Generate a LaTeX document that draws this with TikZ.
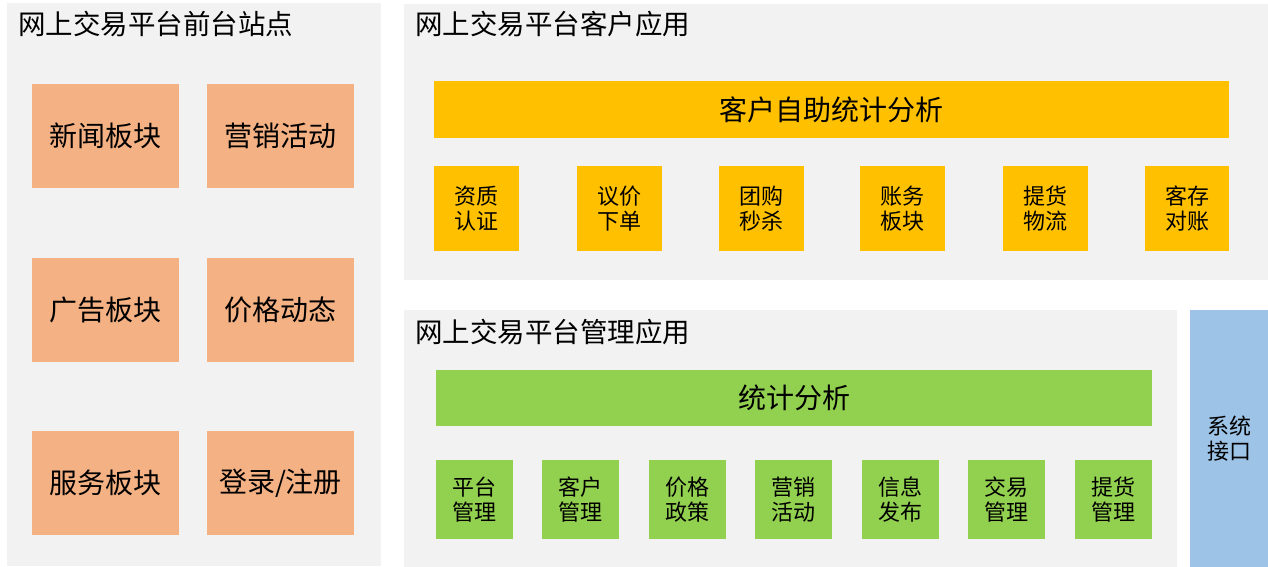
\documentclass[tikz,border=0pt]{standalone}
\usepackage{fontspec}
\setmainfont{Noto Sans CJK SC}
\definecolor{panelgray}{HTML}{F2F2F2}
\definecolor{orangebox}{HTML}{F4B183}
\definecolor{yellowbox}{HTML}{FFC000}
\definecolor{greenbox}{HTML}{92D050}
\definecolor{bluebox}{HTML}{9DC3E6}
\begin{document}
\begin{tikzpicture}[x=1pt,y=-1pt,
  blk/.style={anchor=north west,inner sep=0pt,outer sep=0pt,draw=none,align=center},
  panel/.style={blk,fill=panelgray},
  ttl/.style={anchor=west,inner sep=0pt,font=\fontsize{27.5}{31}\selectfont},
  obox/.style={blk,fill=orangebox,minimum width=147pt,minimum height=104pt,font=\fontsize{28}{32}\selectfont},
  ybar/.style={blk,fill=yellowbox,font=\fontsize{28}{32}\selectfont},
  ybox/.style={blk,fill=yellowbox,minimum width=85pt,minimum height=85pt,font=\fontsize{22}{25}\selectfont},
  gbar/.style={blk,fill=greenbox,font=\fontsize{28}{32}\selectfont},
  gbox/.style={blk,fill=greenbox,minimum width=77pt,minimum height=79pt,font=\fontsize{22}{25}\selectfont},
  bbox/.style={blk,fill=bluebox,font=\fontsize{22}{25}\selectfont}]
\useasboundingbox (0,0) rectangle (1268,567);
% panels
\node[panel,minimum width=374pt,minimum height=563pt] (pleft) at (7,3) {};
\node[panel,minimum width=864pt,minimum height=276pt] (ptop) at (404,4) {};
\node[panel,minimum width=773pt,minimum height=257pt] (pbot) at (404,310) {};
\node[bbox,minimum width=78pt,minimum height=257pt] (iface) at (1190,310) {系统\\接口};
% titles
\node[ttl] (tleft) at (18,24) {网上交易平台前台站点};
\node[ttl] (ttop) at (415,24) {网上交易平台客户应用};
\node[ttl] (tbot) at (415,332) {网上交易平台管理应用};
% left orange boxes
\node[obox] (o1) at (32,84) {新闻板块};
\node[obox] (o2) at (207,84) {营销活动};
\node[obox] (o3) at (32,258) {广告板块};
\node[obox] (o4) at (207,258) {价格动态};
\node[obox] (o5) at (32,431) {服务板块};
\node[obox] (o6) at (207,431) {登录/注册};
% top yellow
\node[ybar,minimum width=795pt,minimum height=57pt] (ystat) at (434,81) {客户自助统计分析};
\node[ybox] (y1) at (434,166) {资质\\认证};
\node[ybox] (y2) at (577,166) {议价\\下单};
\node[ybox] (y3) at (719,166) {团购\\秒杀};
\node[ybox] (y4) at (860,166) {账务\\板块};
\node[ybox] (y5) at (1003,166) {提货\\物流};
\node[ybox,minimum width=84pt] (y6) at (1145,166) {客存\\对账};
% bottom green
\node[gbar,minimum width=716pt,minimum height=56pt] (gstat) at (436,370) {统计分析};
\node[gbox] (g1) at (436,460) {平台\\管理};
\node[gbox] (g2) at (542,460) {客户\\管理};
\node[gbox] (g3) at (649,460) {价格\\政策};
\node[gbox] (g4) at (755,460) {营销\\活动};
\node[gbox] (g5) at (862,460) {信息\\发布};
\node[gbox] (g6) at (968,460) {交易\\管理};
\node[gbox] (g7) at (1075,460) {提货\\管理};
\end{tikzpicture}
\end{document}
